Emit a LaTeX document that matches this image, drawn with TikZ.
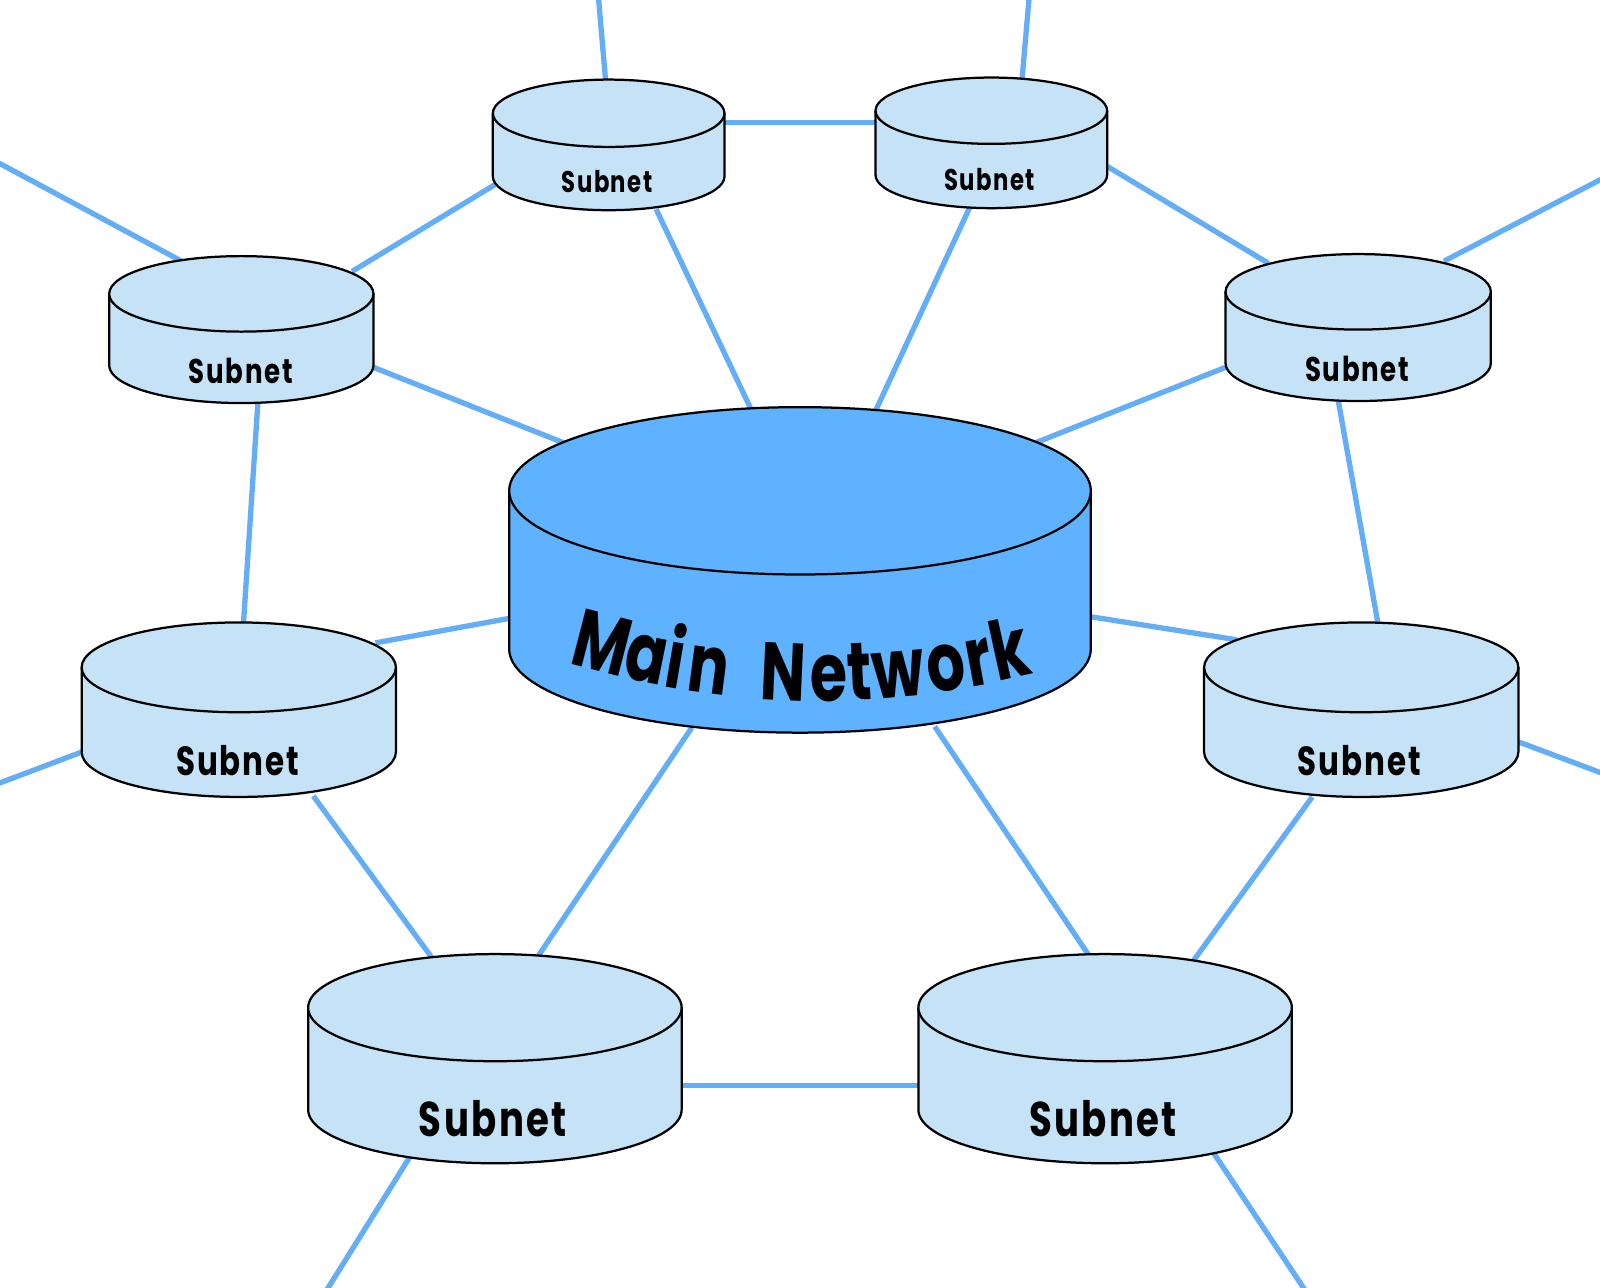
\documentclass[tikz,border=0pt]{standalone}
\usepackage{fontspec}
\usepackage{graphicx}
\newfontfamily\labfont{Poppins}[FakeStretch=0.76, LetterSpace=5]
\newfontfamily\mainfont{Poppins}[FakeStretch=0.74]
\definecolor{linkblue}{RGB}{99,174,247}
\definecolor{subfill}{RGB}{197,226,246}
\definecolor{mainfill}{RGB}{95,178,255}
\def\U{0.5pt}
% #1 name, #2 cx, #3 top-centre y (down positive), #4 rx, #5 ry, #6 height, #7 fill
\newcommand\cylin[7]{%
  \coordinate (#1) at (#2,-#3-#6/2);
  \fill[#7] (#2-#4,-#3) -- (#2-#4,-#3-#6) arc[start angle=180, end angle=360, x radius=#4*\U, y radius=#5*\U] -- (#2+#4,-#3) -- cycle;
  \draw[cylline] (#2-#4,-#3) -- (#2-#4,-#3-#6) arc[start angle=180, end angle=360, x radius=#4*\U, y radius=#5*\U] -- (#2+#4,-#3);
  \filldraw[cylline, fill=#7] (#2,-#3) ellipse[x radius=#4*\U, y radius=#5*\U];
}
\begin{document}
\begin{tikzpicture}[x=0.5pt, y=0.5pt,
  link/.style={draw=linkblue, line width=2.6pt},
  cylline/.style={draw=black, line width=1.1pt},
  lab/.style={inner sep=0pt, font=\labfont\bfseries},
  mainletter/.style={inner sep=0pt, anchor=base, font=\mainfont\bfseries\fontsize{40}{40}\selectfont}]
\useasboundingbox (0,0) rectangle (1568,-1262);
\fill[white] (0,0) rectangle (1568,-1262);
% attachment points
\coordinate (TLa) at (594,-85);   \coordinate (TLup) at (586,8);
\coordinate (TRa) at (1001,-85);  \coordinate (TRup) at (1009,8);
\coordinate (TLr) at (700,-120);  \coordinate (TRl) at (870,-120);
\coordinate (ULa) at (345,-266);  \coordinate (TLb) at (485,-181);
\coordinate (TLc) at (643,-205);  \coordinate (MNa) at (745,-420);
\coordinate (TRc) at (950,-204);  \coordinate (MNb) at (850,-420);
\coordinate (TRd) at (1085,-163); \coordinate (URa) at (1243,-258);
\coordinate (ULb) at (178,-256);  \coordinate (ULleft) at (-10,-155);
\coordinate (URb) at (1415,-256); \coordinate (URright) at (1580,-170);
\coordinate (ULc) at (366,-360);  \coordinate (MNc) at (560,-437);
\coordinate (URc) at (1201,-360); \coordinate (MNd) at (1007,-437);
\coordinate (ULd) at (253,-390);  \coordinate (MLa) at (238,-620);
\coordinate (URd) at (1311,-390); \coordinate (MRa) at (1352,-620);
\coordinate (MLb) at (368,-630);  \coordinate (MNe) at (510,-604);
\coordinate (MRb) at (1212,-627); \coordinate (MNf) at (1060,-603);
\coordinate (MLc) at (80,-737);   \coordinate (MLleft) at (-10,-771);
\coordinate (MRc) at (1488,-727); \coordinate (MRright) at (1580,-761.5);
\coordinate (MLd) at (307,-780);  \coordinate (BLa) at (428,-945);
\coordinate (MNg) at (678,-713);  \coordinate (BLb) at (522,-945);
\coordinate (MNh) at (916,-712);  \coordinate (BRa) at (1073,-945);
\coordinate (MRd) at (1286,-781); \coordinate (BRb) at (1167,-945);
\coordinate (BLr) at (660,-1064); \coordinate (BRl) at (908,-1064);
\coordinate (BLc) at (404,-1130); \coordinate (BLdown) at (313.5,-1275);
\coordinate (BRc) at (1188,-1128); \coordinate (BRdown) at (1286,-1275);
% connectors
\begin{scope}
\clip (0,0) rectangle (1568,-1262);
\draw[link] (TLa) -- (TLup);
\draw[link] (TRa) -- (TRup);
\draw[link] (TLr) -- (TRl);
\draw[link] (ULa) -- (TLb);
\draw[link] (TLc) -- (MNa);
\draw[link] (TRc) -- (MNb);
\draw[link] (TRd) -- (URa);
\draw[link] (ULb) -- (ULleft);
\draw[link] (URb) -- (URright);
\draw[link] (ULc) -- (MNc);
\draw[link] (URc) -- (MNd);
\draw[link] (ULd) -- (MLa);
\draw[link] (URd) -- (MRa);
\draw[link] (MLb) -- (MNe);
\draw[link] (MRb) -- (MNf);
\draw[link] (MLc) -- (MLleft);
\draw[link] (MRc) -- (MRright);
\draw[link] (MLd) -- (BLa);
\draw[link] (MNg) -- (BLb);
\draw[link] (MNh) -- (BRa);
\draw[link] (MRd) -- (BRb);
\draw[link] (BLr) -- (BRl);
\draw[link] (BLc) -- (BLdown);
\draw[link] (BRc) -- (BRdown);
\end{scope}
% cylinders
\cylin{TL}{596.5}{111}{113.5}{33}{62}{subfill}
\cylin{TR}{971.5}{108.5}{113.5}{32.5}{63}{subfill}
\cylin{UL}{236.5}{288}{129.5}{37}{70}{subfill}
\cylin{UR}{1331}{286}{130}{37}{70}{subfill}
\cylin{ML}{234}{654}{154}{44}{83}{subfill}
\cylin{MR}{1334}{654}{154}{44}{83}{subfill}
\cylin{BL}{485}{987.5}{183}{52.5}{100}{subfill}
\cylin{BR}{1083}{987.5}{183}{52.5}{100}{subfill}
\cylin{MN}{784}{481}{285}{82}{155}{mainfill}
% labels
\node[lab] (tlLab) at (595,-178) {\resizebox{44.5pt}{!}{Subnet}};
\node[lab] (trLab) at (970,-176) {\resizebox{44.5pt}{!}{Subnet}};
\node[lab] (ulLab) at (236,-364) {\resizebox{51pt}{!}{Subnet}};
\node[lab] (urLab) at (1330,-362) {\resizebox{51pt}{!}{Subnet}};
\node[lab] (mlLab) at (233,-745) {\resizebox{60.5pt}{!}{Subnet}};
\node[lab] (mrLab) at (1332,-745) {\resizebox{60.5pt}{!}{Subnet}};
\node[lab] (blLab) at (483,-1096) {\resizebox{72.5pt}{!}{Subnet}};
\node[lab] (brLab) at (1081,-1096) {\resizebox{72.5pt}{!}{Subnet}};
% "Main Network", letters set along the curved baseline
\foreach \ch/\x [count=\i] in {M/583, a/629, i/658, n/692, N/767, e/813, t/844, w/883, o/931, r/964, k/995} {
  \pgfmathsetmacro\uu{(\x-780)/100}
  \pgfmathsetmacro\yy{687+2.97*\uu-6.295*\uu*\uu}
  \pgfmathsetmacro\ang{-atan(0.0297-0.1159*\uu)}
  \node[mainletter, rotate=\ang] (mnl\i) at (\x,-\yy) {\ch};
}
\end{tikzpicture}
\end{document}
